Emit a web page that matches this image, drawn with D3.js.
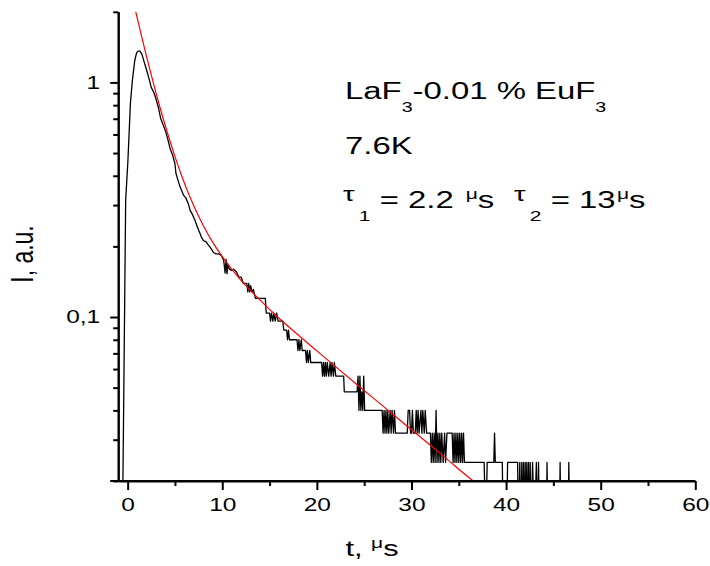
<!DOCTYPE html>
<html>
<head>
<meta charset="utf-8">
<script src="https://cdn.jsdelivr.net/npm/d3@7"></script>
<style>
  body { margin: 0; background: #fff; }
  text { font-family: "Liberation Sans", Arial, sans-serif; fill: #000; }
</style>
</head>
<body>
<div id="chart"></div>
<script>
var blackT = [-1.0, -0.7, -0.5, -0.21, 0.03, 0.29, 0.5, 0.75, 0.95, 1.1, 1.3, 1.5, 1.75, 2.0, 2.25, 2.5, 2.75, 3.0, 3.25, 3.5,
  3.75, 4.0, 4.25, 4.5, 4.75, 5.0, 5.1, 5.3, 5.55, 5.9, 6.15, 6.4, 6.6, 6.8, 7.1, 7.4, 7.65, 7.8, 8.0, 8.3,
  8.55, 8.7, 9.05, 9.3, 9.6, 9.9, 10.15, 10.3, 10.4, 10.5, 10.6, 10.75, 11.0, 11.2, 11.5, 11.75, 12.0, 12.23, 12.6, 12.7,
  12.8, 12.9, 13.0, 13.15, 13.3, 13.5, 14.55, 14.65, 15.0, 15.1, 15.2, 15.35, 15.45, 15.6, 15.75, 15.9, 16.4, 16.5, 16.8, 16.9,
  17.0, 17.1, 17.9, 18.0, 18.1, 18.2, 18.35, 18.45, 18.8, 18.9, 19.0, 19.1, 19.25, 19.35, 20.5, 20.6, 20.7, 20.8, 20.9, 21.0,
  21.1, 21.25, 21.4, 21.5, 21.6, 21.75, 21.85, 22.0, 22.83, 22.9, 24.25, 24.35, 24.45, 24.55, 24.65, 24.75, 24.85, 24.95, 25.05, 26.9,
  27.0, 27.1, 27.2, 27.3, 27.4, 27.5, 27.6, 27.75, 27.85, 27.95, 28.1, 28.2, 28.31, 29.55, 29.65, 29.8, 29.9, 30.0, 30.1, 30.2,
  30.4, 30.5, 30.6, 30.7, 30.8, 31.0, 31.1, 31.2, 31.35, 31.45, 31.6, 32.0, 32.1, 32.2, 32.3, 32.4, 32.5, 32.6, 32.7, 32.8,
  32.9, 33.0, 33.1, 33.2, 33.35, 33.5, 33.6, 33.75, 34.3, 34.4, 34.5, 34.6, 34.7, 34.8, 34.9, 35.0, 35.1, 35.2, 35.3, 35.4,
  35.5, 35.6, 37.68, 37.86, 38.0, 38.7, 38.78, 38.86, 39.6, 39.7, 40.05, 40.16, 41.22, 41.3, 41.45, 41.57, 41.66, 41.75, 41.84, 41.93,
  42.02, 42.1, 42.19, 42.28, 42.37, 42.46, 42.55, 42.63, 42.8, 42.99, 43.2, 43.34, 43.43, 43.52, 44.25, 44.33, 44.42, 45.63, 45.71, 45.8,
  46.55, 46.63, 46.72];
var blackI = [0.008, 0.016, 0.02, 0.315, 0.466, 0.814, 1.02, 1.24, 1.34, 1.36, 1.36, 1.32, 1.22, 1.13, 1.04, 0.95, 0.91, 0.85, 0.78, 0.70,
  0.66, 0.62, 0.57, 0.52, 0.49, 0.45, 0.41, 0.385, 0.358, 0.331, 0.322, 0.305, 0.285, 0.276, 0.259, 0.24, 0.227, 0.219, 0.212, 0.209,
  0.202, 0.199, 0.189, 0.186, 0.186, 0.183, 0.1745, 0.154, 0.176, 0.153, 0.168, 0.16, 0.158, 0.16, 0.156, 0.148, 0.148, 0.139, 0.139, 0.128,
  0.139, 0.128, 0.136, 0.128, 0.131, 0.12, 0.12, 0.104, 0.104, 0.096, 0.104, 0.096, 0.104, 0.096, 0.104, 0.096, 0.096, 0.088, 0.088, 0.08,
  0.088, 0.08, 0.08, 0.072, 0.08, 0.072, 0.08, 0.072, 0.072, 0.064, 0.072, 0.064, 0.072, 0.064, 0.064, 0.056, 0.064, 0.056, 0.064, 0.056,
  0.064, 0.056, 0.064, 0.056, 0.064, 0.056, 0.064, 0.056, 0.056, 0.048, 0.048, 0.056, 0.04, 0.056, 0.04, 0.048, 0.04, 0.056, 0.04, 0.04,
  0.032, 0.04, 0.032, 0.04, 0.032, 0.04, 0.032, 0.04, 0.032, 0.04, 0.032, 0.04, 0.032, 0.032, 0.04, 0.04, 0.032, 0.032, 0.04, 0.032,
  0.032, 0.04, 0.032, 0.04, 0.032, 0.04, 0.032, 0.04, 0.032, 0.04, 0.032, 0.032, 0.024, 0.032, 0.024, 0.032, 0.024, 0.04, 0.024, 0.032,
  0.024, 0.032, 0.024, 0.032, 0.024, 0.032, 0.024, 0.032, 0.032, 0.024, 0.032, 0.024, 0.032, 0.024, 0.032, 0.024, 0.032, 0.024, 0.032, 0.024,
  0.032, 0.024, 0.024, 0.012, 0.024, 0.024, 0.032, 0.024, 0.024, 0.012, 0.012, 0.024, 0.024, 0.012, 0.024, 0.012, 0.024, 0.012, 0.024, 0.012,
  0.024, 0.012, 0.024, 0.012, 0.024, 0.012, 0.024, 0.012, 0.024, 0.012, 0.024, 0.012, 0.024, 0.012, 0.012, 0.024, 0.012, 0.012, 0.024, 0.012,
  0.012, 0.024, 0.012];

// Two-exponential fit (red line).
var fitT = [0.5, 1, 1.5, 2, 2.5, 3, 3.5, 4, 5, 6, 7, 8, 9, 10, 12, 14, 16, 18, 20, 22, 24, 26, 28, 30, 32, 34, 36, 37];
var fitI = [2.304, 1.889, 1.555, 1.288, 1.074, 0.901, 0.761, 0.649, 0.483, 0.372, 0.297, 0.245, 0.208, 0.181, 0.143, 0.118,
  0.0988, 0.084, 0.0717, 0.0613, 0.0525, 0.045, 0.0386, 0.0331, 0.0284, 0.0243, 0.0208, 0.0193];

// Ticks.
var xMajor = [0, 10, 20, 30, 40, 50, 60];
var xMinor = [5, 15, 25, 35, 45, 55];
var yMajor = [0.1, 1];
var yMajorLabels = ["0,1", "1"];
var yMinor = [0.02, 0.03, 0.04, 0.05, 0.06, 0.07, 0.08, 0.09, 0.2, 0.3, 0.4, 0.5, 0.6, 0.7, 0.8, 0.9, 2];

// The original picture is stretched sideways, so every text gets this x scale.
var stretch = 1.4;

var margin = {left: 118.2, right: 14.7, top: 11.8, bottom: 85};
var width = 710 - margin.left - margin.right,
    height = 566 - margin.top - margin.bottom;

var svg = d3.select("#chart")
    .append("svg")
        .attr("width", 710)
        .attr("height", 566)
    .append("g")
        .attr("transform", "translate(" + margin.left + "," + margin.top + ")");

var x = d3.scaleLinear().domain([-1, 60]).range([0, width]);
var y = d3.scaleLog().domain([0.02, 2]).range([height, 0]);

svg.append("clipPath")
    .attr("id", "plot-clip")
  .append("rect")
    .attr("width", width)
    .attr("height", height);

// Curves.
var blackData = blackT.map(function(t, i) { return [t, blackI[i]]; });
var fitData = fitT.map(function(t, i) { return [t, fitI[i]]; });

var line = d3.line()
    .x(function(d) { return x(d[0]); })
    .y(function(d) { return y(d[1]); });

svg.append("path")
    .datum(blackData)
    .attr("clip-path", "url(#plot-clip)")
    .attr("fill", "none")
    .attr("stroke", "#000")
    .attr("stroke-width", 1.3)
    .attr("stroke-linejoin", "round")
    .attr("d", line);

svg.append("path")
    .datum(fitData)
    .attr("clip-path", "url(#plot-clip)")
    .attr("fill", "none")
    .attr("stroke", "#ff0000")
    .attr("stroke-width", 1.2)
    .attr("d", line.curve(d3.curveMonotoneX));

// Axes.
function styleAxis(g) {
    g.selectAll("path, line").attr("stroke", "#000").attr("stroke-width", 2);
    g.selectAll("text").attr("font-size", 17.5).attr("fill", "#000")
        .attr("font-family", "'Liberation Sans', Arial, sans-serif");
}

svg.append("g")
    .attr("transform", "translate(0," + height + ")")
    .call(d3.axisBottom(x).tickValues(xMinor).tickSize(5).tickSizeOuter(0).tickFormat(""))
    .call(styleAxis)
    .select(".domain")
        .attr("d", "M-8,0H" + width);

svg.append("g")
    .attr("transform", "translate(0," + height + ")")
    .call(d3.axisBottom(x).tickValues(xMajor).tickSize(9).tickPadding(9).tickSizeOuter(0).tickFormat(d3.format("d")))
    .call(styleAxis)
    .selectAll("text")
        .attr("transform", "scale(" + stretch + ",1)");

svg.append("g")
    .call(d3.axisLeft(y).tickValues(yMinor).tickSize(5).tickSizeOuter(0).tickFormat(""))
    .call(styleAxis);

svg.append("g")
    .call(d3.axisLeft(y).tickValues(yMajor).tickSize(8).tickPadding(10).tickSizeOuter(0)
        .tickFormat(function(d, i) { return yMajorLabels[i]; }))
    .call(styleAxis)
    .selectAll("text")
        .attr("x", -18 / stretch)
        .attr("transform", "scale(" + stretch + ",1)");

// Text helper: a stretched text at a page position, built from pieces.
var page = d3.select("svg");
function label(px, py, size, pieces, anchor, rotate) {
    var t = page.append("g")
        .attr("transform", "translate(" + px + "," + py + ") scale(" + stretch + ",1)" + (rotate ? " rotate(" + rotate + ")" : ""))
      .append("text")
        .attr("font-size", size)
        .attr("text-anchor", anchor || "start");
    pieces.forEach(function(p) {
        t.append("tspan")
            .attr("font-size", p.size || size)
            .attr("dy", p.dy || 0)
            .attr("dx", p.dx || 0)
            .text(p.text);
    });
}

label(345, 99, 23.5, [
    {text: "LaF"}, {text: "3", size: 14, dy: 13},
    {text: "-0.01 % EuF", dy: -13}, {text: "3", size: 14, dy: 13}
]);
label(345, 154, 23.5, [{text: "7.6K"}]);
label(343, 208, 23.5, [
    {text: "\u03c4", size: 21, dy: -7}, {text: "1", size: 15, dy: 20, dx: 3},
    {text: " = 2.2 ", dy: -13}, {text: "\u03bc", size: 15, dy: -9, dx: 2}, {text: "s", dy: 9}
]);
label(514, 208, 23.5, [
    {text: "\u03c4", size: 21, dy: -7}, {text: "2", size: 15, dy: 20, dx: 3},
    {text: " = 13", dy: -13}, {text: "\u03bc", size: 15, dy: -9, dx: 1}, {text: "s", dy: 9}
]);

// Axis titles.
label(372, 556, 22, [{text: "t, "}, {text: "\u03bc", size: 15, dy: -8}, {text: "s", dy: 8}], "middle");
label(33, 254, 23, [{text: "I, a.u."}], "middle", -90);
</script>
</body>
</html>
